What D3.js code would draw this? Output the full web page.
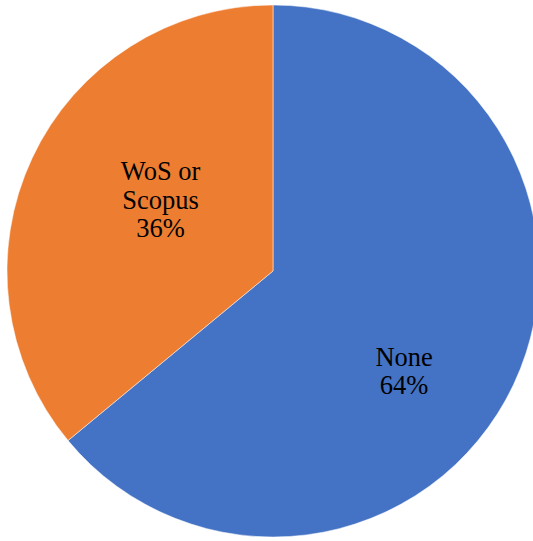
<!DOCTYPE html>
<meta charset="utf-8">
<style>
  body { margin: 0; background: #fff; }
</style>
<svg class="chart"></svg>
<script src="https://d3js.org/d3.v7.min.js"></script>
<script>
  var categories = ["None", "WoS or Scopus"];
  var values     = [64, 36];
  var labelLines = [["None"], ["WoS or", "Scopus"]];
  var colors     = ["#4472C4", "#ED7D31"];

  var width  = 533,
      height = 541,
      cx     = 273,
      cy     = 271,
      radius = 266,
      lineH  = 28.5;

  // Excel "best fit" label spots: angle (deg, clockwise from top) and distance from centre
  var labelPos = [{ angle: 127.4, r: 165 }, { angle: 302.3, r: 133 }];

  var data = categories.map(function(c, i) {
    return { name: c, value: values[i], lines: labelLines[i], color: colors[i], pos: labelPos[i] };
  });

  var total = d3.sum(values);

  var svg = d3.select(".chart")
      .attr("width", width)
      .attr("height", height)
    .append("g")
      .attr("transform", "translate(" + cx + "," + cy + ")");

  var pie = d3.pie()
      .sort(null)
      .value(function(d) { return d.value; });

  var arc = d3.arc()
      .innerRadius(0)
      .outerRadius(radius);

  var arcs = pie(data);

  svg.selectAll("path")
      .data(arcs)
    .enter().append("path")
      .attr("d", arc)
      .attr("fill", function(d) { return d.data.color; })
      .attr("stroke", "#fff")
      .attr("stroke-width", 0.5);

  var labels = svg.append("g")
      .attr("class", "label")
    .selectAll("text")
      .data(arcs)
    .enter().append("text")
      .attr("text-anchor", "middle")
      .style("font-family", "'Liberation Serif', 'Times New Roman', 'DejaVu Serif', serif")
      .style("font-size", "26.5px")
      .style("fill", "#000")
      .attr("transform", function(d) {
        var a = d.data.pos.angle * Math.PI / 180;
        return "translate(" + (Math.sin(a) * d.data.pos.r) + "," + (-Math.cos(a) * d.data.pos.r) + ")";
      });

  labels.each(function(d) {
    var lines = d.data.lines.concat([d3.format(".0%")(d.data.value / total)]);
    var top = -(lines.length - 1) * lineH / 2 + 9;
    d3.select(this).selectAll("tspan")
        .data(lines)
      .enter().append("tspan")
        .attr("x", 0)
        .attr("y", function(l, i) { return top + i * lineH; })
        .text(function(l) { return l; });
  });
</script>
